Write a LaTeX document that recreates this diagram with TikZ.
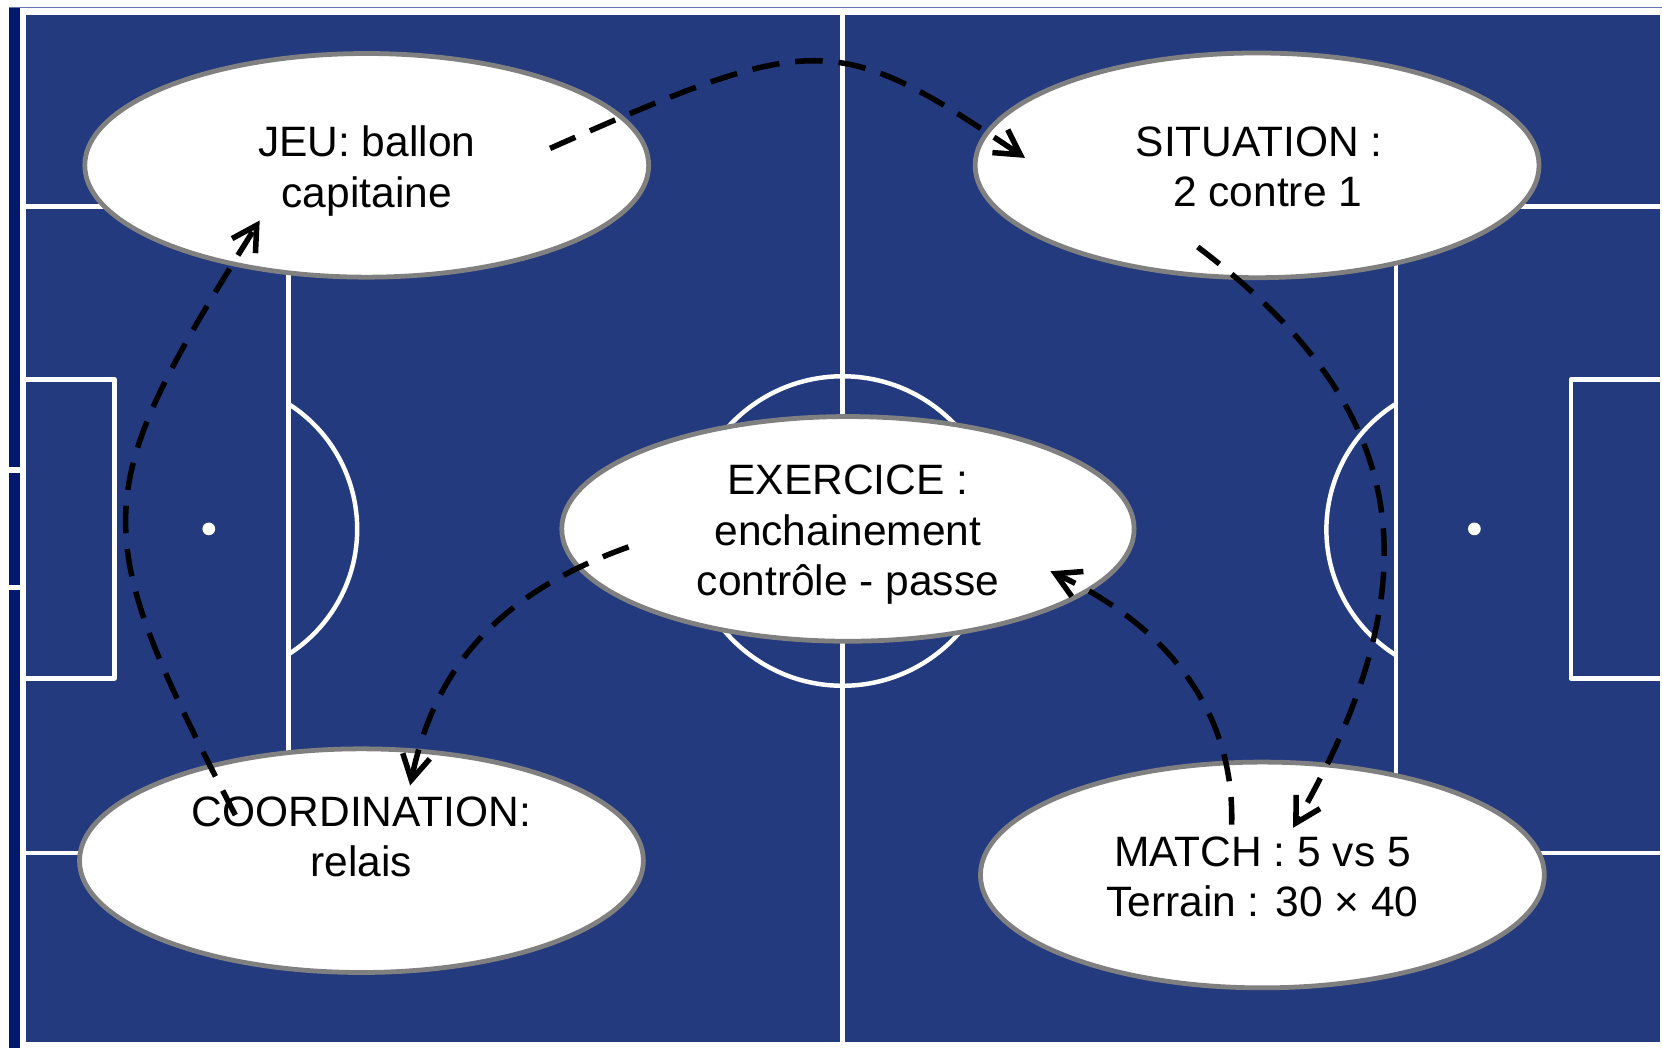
\documentclass[tikz,border=0pt]{standalone}
\usepackage{fontspec}
\setmainfont{Liberation Sans}
\usetikzlibrary{arrows.meta}
\definecolor{gazon}{RGB}{35,58,126}
\definecolor{bordure}{RGB}{0,25,110}
\definecolor{liseret}{RGB}{100,120,180}
\definecolor{contour}{RGB}{128,128,128}
\tikzset{
	ligne/.style={draw=white, line width=0.42mm, line join=round},
	bulle/.style={draw=contour, fill=white, line width=0.45mm},
	texte/.style={align=center, inner sep=0pt, font=\fontsize{11.4}{13.5}\selectfont},
	fleche/.style={line width=0.52mm, dash pattern=on 2.6mm off 1.5mm, -{Straight Barb[length=2.3mm, width=2.6mm]}}
}

\begin{document}
\begin{tikzpicture}[x=0.01cm, y=-0.01cm]
			%%%%% START %%%%%
			\useasboundingbox (0, 0) rectangle (1568, 989);
			\fill[white] (0, 0) rectangle (1568, 989);
			
			\fill[bordure] (8.5, 7.5) rectangle (19, 989);
			\draw[liseret, line width=0.1mm] (8.5, 7.5) -- (1568, 7.5);
			\draw[white, line width=0.5mm] (8.5, 443.5) -- (19, 443.5);
			\draw[white, line width=0.5mm] (8.5, 554.5) -- (19, 554.5);
			
			\fill[gazon] (24.5, 14) rectangle (1566, 983);
			
			\draw[ligne] (795, 14) -- (795, 983);
			\draw[ligne] (795, 501) circle (146);
			
			\draw[ligne] (24.5, 195) -- (272, 195) -- (272, 805) -- (24.5, 805);
			\draw[ligne] (24.5, 358) -- (108, 358) -- (108, 640) -- (24.5, 640);
			\draw[ligne] (272, 381) arc (-57.6:57.6:140);
			\fill[white] (197, 499) circle (6);
			
			\draw[ligne] (1566, 195) -- (1317, 195) -- (1317, 805) -- (1566, 805);
			\draw[ligne] (1566, 358) -- (1482, 358) -- (1482, 640) -- (1566, 640);
			\draw[ligne] (1317, 381) arc (237.9:122.1:140);
			\fill[white] (1391, 499) circle (6);
			
			\draw[bulle] (346, 156) ellipse (266 and 105.5);
			\draw[bulle] (1186, 156) ellipse (266 and 106);
			\draw[bulle] (800, 499) ellipse (270 and 106);
			\draw[bulle] (341, 812) ellipse (266 and 105.5);
			\draw[bulle] (1191, 825.5) ellipse (266 and 106.5);
			
			\node[texte] (jeu) at (346, 161.5) {JEU: ballon\\capitaine};
			\node[texte] (situation) at (1188, 157.6) {SITUATION :\\\hspace{0.4em}2 contre 1};
			\node[texte] (exercice) at (800, 504.4) {EXERCICE :\\enchainement\\contrôle - passe};
			\node[texte] (coordination) at (341, 813.3) {COORDINATION:\\relais\\\mbox{}};
			\node[texte] (match) at (1191, 827.6) {MATCH : 5 vs 5\\Terrain : 30 × 40};
			
			\coordinate (jeuD) at (519, 140);
			\coordinate (situationA) at (967, 149);
			\coordinate (situationD) at (1130, 233);
			\coordinate (matchA) at (1220, 781);
			\coordinate (matchD) at (1162, 778);
			\coordinate (exerciceA) at (991, 539);
			\coordinate (exerciceD) at (593, 516);
			\coordinate (coordinationA) at (387, 741);
			\coordinate (coordinationD) at (222, 769);
			\coordinate (jeuA) at (245, 208);
			
			\draw[fleche] (jeuD) .. controls (770, 29) and (789, 29) .. (situationA);
			\draw[fleche] (situationD) .. controls (1310, 370) and (1370, 520) .. (matchA);
			\draw[fleche] (matchD) .. controls (1165, 670) and (1100, 590) .. (exerciceA);
			\draw[fleche] (exerciceD) .. controls (470, 560) and (410, 630) .. (coordinationA);
			\draw[fleche] (coordinationD) .. controls (81, 496) and (81, 470) .. (jeuA);
			
			%%%%% END %%%%%
		\end{tikzpicture}
\end{document}
